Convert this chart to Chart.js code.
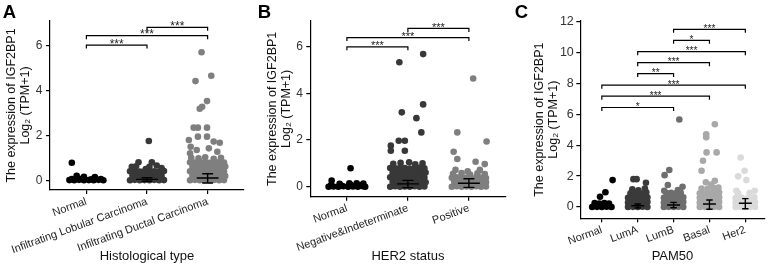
<!DOCTYPE html>
<html><head><meta charset="utf-8">
<script src="https://cdn.jsdelivr.net/npm/chart.js@4.4.1/dist/chart.umd.min.js"></script>
<style>
html,body{margin:0;padding:0;background:#fff;}
#wrap{position:relative;width:768px;height:267px;overflow:hidden;background:#fff;}
canvas{position:absolute;top:0;}
</style></head><body>
<div id="wrap">
<canvas id="cA" width="256" height="267" style="left:0px"></canvas>
<canvas id="cB" width="256" height="267" style="left:256px"></canvas>
<canvas id="cC" width="256" height="267" style="left:512px"></canvas>
</div>
<script>
// ---------- categories & tick labels ----------
const catsA = ['Normal', 'Infiltrating Lobular Carcinoma', 'Infiltrating Ductal Carcinoma'];
const catsB = ['Normal', 'Negative&Indeterminate', 'Positive'];
const catsC = ['Normal', 'LumA', 'LumB', 'Basal', 'Her2'];
const yTicksA = [0, 2, 4, 6];
const yTicksB = [0, 2, 4, 6];
const yTicksC = [0, 2, 4, 6, 8, 10, 12];
const xTitleA = 'Histological type';
const xTitleB = 'HER2 status';
const xTitleC = 'PAM50';
const yTitle = ['The expression of IGF2BP1', 'Log\u2082 (TPM+1)'];

// ---------- samples: [jitter, log2(TPM+1)] ----------
const aNormal = [
[-0.28,0.01],[-0.20,0.00],[-0.12,0.02],[-0.04,0.00],[0.04,0.01],[0.12,0.00],[0.20,0.02],[0.28,0.00],
[-0.24,0.06],[-0.08,0.07],[0.08,0.05],[0.24,0.06],
[-0.16,0.20],[-0.04,0.16],[0.14,0.14],
[-0.24,0.78]];
const aLobular = [
[-0.28,0.00],[-0.20,0.02],[-0.12,0.00],[-0.04,0.01],[0.04,0.00],[0.12,0.02],[0.20,0.00],[0.28,0.01],
[-0.24,0.20],[-0.16,0.21],[-0.08,0.19],[0.00,0.20],[0.08,0.22],[0.16,0.20],[0.24,0.19],
[-0.28,0.40],[-0.20,0.41],[-0.12,0.39],[-0.04,0.40],[0.04,0.42],[0.12,0.40],[0.20,0.39],[0.28,0.41],
[-0.25,0.60],[-0.14,0.80],[-0.18,0.62],[0.08,0.80],[0.04,0.60],[0.16,0.66],[0.24,0.55],[-0.02,0.50],
[0.03,1.75]];
const aDuctal = [
[-0.29,0.00],[-0.21,0.02],[-0.13,0.00],[-0.05,0.01],[0.03,0.00],[0.11,0.02],[0.19,0.00],[0.27,0.01],
[-0.25,0.20],[-0.17,0.19],[-0.09,0.21],[-0.01,0.20],[0.07,0.18],[0.15,0.20],[0.23,0.21],[0.29,0.19],
[-0.29,0.40],[-0.21,0.39],[-0.13,0.41],[-0.05,0.40],[0.03,0.38],[0.11,0.40],[0.19,0.41],[0.27,0.39],
[-0.25,0.60],[-0.17,0.61],[-0.09,0.59],[-0.01,0.60],[0.07,0.62],[0.15,0.60],[0.23,0.59],[0.29,0.61],
[-0.29,0.80],[-0.21,0.79],[-0.13,0.81],[-0.05,0.80],[0.03,0.78],[0.11,0.80],[0.19,0.81],[0.27,0.79],
[-0.27,1.00],[-0.15,0.98],[-0.04,1.02],[0.10,0.96],[0.22,1.00],
[-0.29,1.20],[-0.28,1.49],[-0.18,1.35],[-0.31,1.79],[0.02,1.42],[0.16,1.27],[0.10,1.72],[0.20,1.67],
[-0.23,2.34],[-0.16,2.34],[-0.01,2.34],[-0.16,1.94],[-0.01,1.94],
[-0.13,3.18],[-0.09,3.27],[-0.01,3.52],[-0.20,4.41],[0.06,4.65],[-0.10,5.69]];

const bNormal = [
[-0.30,0.00],[-0.22,0.01],[-0.14,0.00],[-0.06,0.02],[0.02,0.00],[0.10,0.01],[0.18,0.00],[0.26,0.02],[0.30,0.00],
[-0.26,0.07],[-0.10,0.06],[0.06,0.08],[0.22,0.06],
[-0.25,0.26],[-0.12,0.12],[0.04,0.14],[0.16,0.15],[0.27,0.13],
[0.06,0.79]];
const bNegInd = [
[-0.29,0.00],[-0.21,0.02],[-0.13,0.00],[-0.05,0.01],[0.03,0.00],[0.11,0.02],[0.19,0.00],[0.27,0.01],
[-0.25,0.20],[-0.17,0.19],[-0.09,0.21],[-0.01,0.20],[0.07,0.18],[0.15,0.20],[0.23,0.21],[0.29,0.19],
[-0.29,0.40],[-0.21,0.39],[-0.13,0.41],[-0.05,0.40],[0.03,0.38],[0.11,0.40],[0.19,0.41],[0.27,0.39],
[-0.25,0.60],[-0.17,0.61],[-0.09,0.59],[-0.01,0.60],[0.07,0.62],[0.15,0.60],[0.23,0.59],[0.29,0.61],
[-0.29,0.80],[-0.21,0.79],[-0.13,0.81],[-0.05,0.80],[0.03,0.78],[0.11,0.80],[0.19,0.81],[0.27,0.79],
[-0.24,0.98],[-0.12,1.02],[0.02,1.05],[0.12,0.96],[0.24,1.00],
[-0.28,1.76],[-0.28,1.54],[-0.05,1.54],[-0.15,1.97],[-0.05,1.97],[0.22,2.33],[0.14,2.94],[-0.10,3.19],[0.25,3.53],[-0.14,5.34],[0.25,5.69]];
const bPositive = [
[-0.28,0.00],[-0.20,0.02],[-0.12,0.00],[-0.04,0.01],[0.04,0.00],[0.12,0.02],[0.20,0.00],[0.28,0.01],
[-0.24,0.20],[-0.16,0.19],[-0.08,0.21],[0.00,0.20],[0.08,0.18],[0.16,0.20],[0.24,0.21],[0.28,0.19],
[-0.28,0.38],[-0.20,0.40],[-0.12,0.37],[-0.04,0.39],[0.04,0.36],[0.12,0.40],[0.20,0.38],[0.28,0.37],
[-0.26,0.55],[-0.12,0.58],[0.02,0.52],[0.14,0.57],[0.26,0.54],[-0.22,0.72],[0.18,0.72],[-0.02,0.66],
[-0.19,1.19],[-0.25,1.50],[-0.19,2.33],[0.29,1.94],[0.11,1.07],[0.26,0.97],[0.07,4.64]];

const cNormal = [
[-0.27,0.00],[-0.135,0.01],[0.00,0.00],[0.135,0.02],[0.27,0.00],
[-0.20,0.25],[-0.07,0.22],[0.07,0.26],[0.20,0.23],
[-0.05,0.66],[0.10,0.95],[0.30,1.74]];
const cLumA = [
[-0.27,0.00],[-0.135,0.01],[0.00,0.00],[0.135,0.02],[0.27,0.00],
[-0.20,0.30],[-0.07,0.31],[0.07,0.29],[0.20,0.30],[0.27,0.32],[-0.27,0.28],
[-0.27,0.60],[-0.135,0.61],[0.00,0.59],[0.135,0.60],[0.27,0.62],
[-0.20,0.88],[-0.05,0.92],[0.10,0.86],[0.24,0.95],
[-0.15,1.14],[0.02,1.08],[0.20,1.20],
[-0.12,1.80],[-0.03,1.80],[0.23,1.57]];
const cLumB = [
[-0.27,0.00],[-0.135,0.01],[0.00,0.00],[0.135,0.02],[0.27,0.00],
[-0.20,0.30],[-0.07,0.31],[0.07,0.29],[0.20,0.30],[0.27,0.32],[-0.27,0.28],
[-0.27,0.60],[-0.135,0.61],[0.00,0.59],[0.135,0.60],[0.27,0.62],
[-0.20,0.90],[-0.07,0.92],[0.07,0.88],[0.20,0.91],
[-0.26,1.05],[0.12,1.10],
[-0.16,1.42],[0.25,1.31],[-0.25,2.06],[-0.12,2.39],[0.16,5.65]];
const cBasal = [
[-0.27,0.00],[-0.135,0.01],[0.00,0.00],[0.135,0.02],[0.27,0.00],
[-0.20,0.30],[-0.07,0.31],[0.07,0.29],[0.20,0.30],[0.27,0.32],[-0.27,0.28],
[-0.27,0.60],[-0.135,0.61],[0.00,0.59],[0.135,0.60],[0.27,0.62],
[-0.20,0.90],[-0.07,0.92],[0.07,0.88],[0.20,0.91],[0.27,0.93],[-0.27,0.89],
[-0.22,1.20],[-0.05,1.18],[0.12,1.22],[0.25,1.25],
[-0.10,1.60],[0.05,1.45],[0.15,1.70],
[-0.22,2.34],[-0.18,2.99],[-0.08,3.53],[0.20,3.53],[-0.09,4.50],[-0.09,4.70],[0.15,5.35]];
const cHer2 = [
[-0.27,0.00],[-0.135,0.01],[0.00,0.00],[0.135,0.02],[0.27,0.00],
[-0.20,0.30],[-0.07,0.31],[0.07,0.29],[0.20,0.30],[0.27,0.32],[-0.27,0.28],
[-0.27,0.58],[-0.10,0.60],[0.07,0.57],[0.25,0.62],
[-0.20,0.88],[0.12,0.90],[0.26,1.05],[-0.25,1.05],
[0.03,1.74],[-0.20,1.98],[-0.02,2.34],[-0.13,3.20]];

// ---------- summary: [mean, lower, upper] ----------
const errA = [[0.02,0.00,0.05],[0.04,-0.04,0.12],[0.10,-0.12,0.29]];
const errB = [[0.03,0.00,0.07],[0.12,-0.04,0.27],[0.15,-0.03,0.34]];
const errC = [[0.05,0.00,0.12],[0.08,-0.06,0.19],[0.13,-0.05,0.30],[0.19,-0.15,0.45],[0.24,-0.11,0.54]];

// ---------- significance: [from, to, level, label] ----------
const sigA = [[1,2,6.01,'***'],[1,3,6.43,'***'],[2,3,6.80,'***']];
const sigB = [[1,2,6.00,'***'],[1,3,6.40,'***'],[2,3,6.79,'***']];
const sigC = [[1,3,6.43,'*'],[1,4,7.16,'***'],[1,5,7.87,'***'],[2,3,8.62,'**'],[2,4,9.33,'***'],[2,5,10.04,'***'],[3,4,10.77,'*'],[3,5,11.48,'***']];

// ---------- styles ----------
const colorsA = ['#000000', '#383838', '#7f7f7f'];
const colorsB = ['#000000', '#383838', '#7f7f7f'];
const colorsC = ['#000000', '#3a3a3a', '#6e6e6e', '#a8a8a8', '#dadada'];

Chart.defaults.font.family = '"Liberation Sans", Arial, Helvetica, sans-serif';

const annot = {
  id: 'annot',
  afterDatasetsDraw(chart, args, o) {
    const ctx = chart.ctx, xs = chart.scales.x, ys = chart.scales.y;
    ctx.save();
    ctx.strokeStyle = '#000';
    ctx.lineWidth = 1.4;
    const unit = xs.getPixelForValue(2) - xs.getPixelForValue(1);
    o.err.forEach((e, i) => {
      const cx = xs.getPixelForValue(i + 1);
      const half = unit * 0.18, cap = unit * 0.09;
      const ym = ys.getPixelForValue(e[0]), yl = ys.getPixelForValue(e[1]), yh = ys.getPixelForValue(e[2]);
      ctx.beginPath();
      ctx.moveTo(cx - half, ym); ctx.lineTo(cx + half, ym);
      ctx.moveTo(cx, yl); ctx.lineTo(cx, yh);
      ctx.moveTo(cx - cap, yl); ctx.lineTo(cx + cap, yl);
      ctx.moveTo(cx - cap, yh); ctx.lineTo(cx + cap, yh);
      ctx.stroke();
    });
    ctx.lineWidth = 1.2;
    ctx.font = o.starSize + 'px "Liberation Sans", Arial, sans-serif';
    ctx.fillStyle = '#222';
    ctx.textAlign = 'center';
    ctx.textBaseline = 'alphabetic';
    o.sig.forEach(s => {
      const x1 = xs.getPixelForValue(s[0]), x2 = xs.getPixelForValue(s[1]), y = ys.getPixelForValue(s[2]);
      ctx.beginPath();
      ctx.moveTo(x1, y + 3.5); ctx.lineTo(x1, y); ctx.lineTo(x2, y); ctx.lineTo(x2, y + 3.5);
      ctx.stroke();
      ctx.fillText(s[3], (x1 + x2) / 2, y + 2.5);
    });
    ctx.font = 'bold 18.5px "Liberation Sans", Arial, sans-serif';
    ctx.fillStyle = '#000';
    ctx.textAlign = 'left';
    ctx.fillText(o.letter, o.lx, 18.3);
    ctx.restore();
  }
};

function makeChart(id, cats, groups, colors, yTicks, cfg) {
  const datasets = groups.map((pts, gi) => ({
    data: pts.map(p => ({ x: gi + 1 + p[0], y: p[1] })),
    backgroundColor: colors[gi],
    borderWidth: 0,
    pointRadius: 3.3,
    pointHoverRadius: 3.3,
    pointBorderWidth: 0
  }));
  const axisGrid = { drawOnChartArea: false, drawTicks: true, tickLength: 4, color: '#000', lineWidth: 1.2 };
  const axisBorder = { display: true, color: '#000', width: 1.2 };
  return new Chart(document.getElementById(id), {
    type: 'scatter',
    data: { datasets },
    plugins: [annot],
    options: {
      responsive: false, animation: false, events: [],
      layout: { padding: { left: 0, right: cfg.right, top: 21, bottom: 0 } },
      plugins: {
        legend: { display: false }, tooltip: { enabled: false },
        annot: { err: cfg.err, sig: cfg.sig, letter: cfg.letter, lx: cfg.lx, starSize: cfg.starSize }
      },
      scales: {
        x: {
          type: 'linear', min: 0.4, max: cfg.xmax,
          afterBuildTicks: s => { s.ticks = cats.map((c, i) => ({ value: i + 1 })); },
          ticks: { callback: v => cats[v - 1], autoSkip: false, minRotation: 20, maxRotation: 20, font: { size: 11 }, color: '#222', padding: 1 },
          grid: axisGrid, border: axisBorder,
          title: { display: true, text: cfg.xTitle, font: { size: 13 }, color: '#111', padding: { top: 0, bottom: 2.5 } },
          afterFit: s => { s.height = 267 - cfg.bottom; }
        },
        y: {
          min: cfg.ymin, max: cfg.ymax,
          afterBuildTicks: s => { s.ticks = yTicks.map(v => ({ value: v })); },
          ticks: { font: { size: cfg.yTickSize }, color: '#333', padding: cfg.yPad },
          grid: axisGrid, border: axisBorder,
          title: { display: true, text: yTitle, font: { size: 12.5, lineHeight: 1.12 }, color: '#111', padding: { top: cfg.yTitlePad, bottom: 0 } },
          afterFit: s => { s.width = cfg.left; }
        }
      }
    }
  });
}

makeChart('cA', catsA, [aNormal, aLobular, aDuctal], colorsA, yTicksA,
  { left: 50, right: 12, bottom: 190, ymin: -0.43, ymax: 7.08, xmax: 3.6, err: errA, sig: sigA, letter: 'A', lx: 2.7, starSize: 12, xTitle: xTitleA, yTitlePad: 5, yTickSize: 12, yPad: 3.5 });
makeChart('cB', catsB, [bNormal, bNegInd, bPositive], colorsB, yTicksB,
  { left: 54.3, right: 6.5, bottom: 196.7, ymin: -0.43, ymax: 7.11, xmax: 3.6, err: errB, sig: sigB, letter: 'B', lx: 1.7, starSize: 11, xTitle: xTitleB, yTitlePad: 9.7, yTickSize: 12, yPad: 3.5 });
makeChart('cC', catsC, [cNormal, cLumA, cLumB, cBasal, cHer2], colorsC, yTicksC,
  { left: 68.3, right: 0, bottom: 218.3, ymin: -0.73, ymax: 12.02, xmax: 5.54, err: errC, sig: sigC, letter: 'C', lx: 2.7, starSize: 10, xTitle: xTitleC, yTitlePad: 20.5, yTickSize: 12.5, yPad: 2.5 });
</script>
</body></html>
